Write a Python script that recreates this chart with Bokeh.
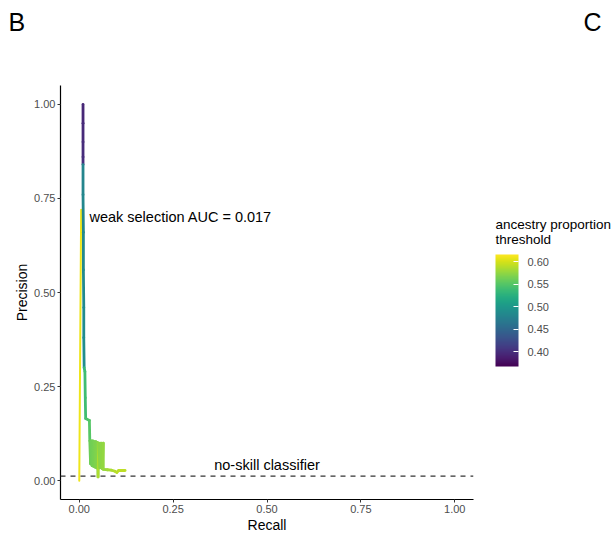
from bokeh.plotting import figure
from bokeh.models import (ColumnDataSource, LinearColorMapper, ColorBar, Span, Label,
                          NumeralTickFormatter, FixedTicker)
from bokeh.palettes import Viridis256
from bokeh.embed import file_html
from bokeh.resources import INLINE

# precision-recall path (ordered), coloured by ancestry proportion threshold
main_recall = [0.010, 0.010, 0.010, 0.010, 0.010, 0.010, 0.011, 0.011, 0.012, 0.012,
               0.013, 0.015, 0.016, 0.017, 0.027, 0.028,
               0.030, 0.032, 0.034, 0.036, 0.038, 0.040, 0.042, 0.044, 0.046, 0.048,
               0.050, 0.052, 0.055, 0.058, 0.061, 0.064, 0.064,
               0.075, 0.085, 0.095, 0.100, 0.105, 0.122]
main_precision = [1.000, 0.950, 0.900, 0.860, 0.840, 0.760, 0.660, 0.560, 0.460, 0.380,
                  0.300, 0.290, 0.220, 0.165, 0.160, 0.106,
                  0.045, 0.106, 0.040, 0.106, 0.038, 0.104, 0.036, 0.104, 0.034, 0.102,
                  0.010, 0.100, 0.034, 0.100, 0.032, 0.100, 0.030,
                  0.029, 0.028, 0.025, 0.022, 0.027, 0.027]
main_threshold = [0.395, 0.397, 0.399, 0.400, 0.480, 0.482, 0.484, 0.486, 0.488, 0.490,
                  0.535, 0.540, 0.540, 0.545, 0.550, 0.560,
                  0.561, 0.562, 0.563, 0.564, 0.565, 0.566, 0.567, 0.568, 0.569, 0.570,
                  0.585, 0.572, 0.573, 0.574, 0.575, 0.576, 0.578,
                  0.582, 0.585, 0.588, 0.590, 0.591, 0.593]

# highest-threshold branch
high_recall = [0.000, 0.005]
high_precision = [0.000, 0.720]
high_threshold = [0.610, 0.610]

no_skill = 0.012
auc_text = "weak selection AUC = 0.017"
cbar_title = "ancestry proportion\nthreshold"
cbar_ticks = [0.40, 0.45, 0.50, 0.55, 0.60]
axis_ticks = [0.0, 0.25, 0.5, 0.75, 1.0]
panel_tags = ["B", "C"]


def segments(xs, ys, ts):
    return dict(x0=xs[:-1], y0=ys[:-1], x1=xs[1:], y1=ys[1:], t=ts[:-1])


mapper = LinearColorMapper(palette=Viridis256, low=0.367, high=0.616)

p = figure(width=613, height=535, output_backend="svg", toolbar_location=None,
           x_range=(-0.05, 1.05), y_range=(-0.05, 1.05),
           min_border_left=60, min_border_top=85, min_border_right=140,
           min_border_bottom=35)

p.add_layout(Span(location=no_skill, dimension="width", line_color="#333333",
                  line_width=1.2, line_dash="5 5"))

src_main = ColumnDataSource(segments(main_recall, main_precision, main_threshold))
src_high = ColumnDataSource(segments(high_recall, high_precision, high_threshold))
p.segment("x0", "y0", "x1", "y1", source=src_high, line_width=2.0, line_cap="round",
          line_color={"field": "t", "transform": mapper})
p.segment("x0", "y0", "x1", "y1", source=src_main, line_width=2.8, line_cap="round",
          line_color={"field": "t", "transform": mapper})

p.add_layout(Label(x=0.027, y=0.70, text=auc_text, text_font="Liberation Sans",
                   text_font_size="14.5px", text_baseline="middle", text_color="black"))
p.add_layout(Label(x=0.5, y=0.042, text="no-skill classifier", text_font="Liberation Sans",
                   text_font_size="14.5px", text_baseline="middle", text_align="center",
                   text_color="black"))

for ax in (p.xaxis[0], p.yaxis[0]):
    ax.ticker = FixedTicker(ticks=axis_ticks)
    ax.formatter = NumeralTickFormatter(format="0.00")
    ax.axis_line_color = "black"
    ax.axis_line_width = 1.2
    ax.major_tick_in = 0
    ax.major_tick_out = 3
    ax.major_tick_line_color = "#333333"
    ax.minor_tick_line_color = None
    ax.major_label_text_font = "Liberation Sans"
    ax.major_label_text_font_size = "11px"
    ax.major_label_text_color = "#4d4d4d"
    ax.major_label_standoff = 2
    ax.axis_label_text_font = "Liberation Sans"
    ax.axis_label_text_font_size = "14px"
    ax.axis_label_text_font_style = "normal"
    ax.axis_label_text_color = "black"
    ax.axis_label_standoff = 1
p.xaxis.axis_label = "Recall"
p.yaxis.axis_label = "Precision"
p.xgrid.visible = False
p.ygrid.visible = False
p.outline_line_color = None

cbar = ColorBar(color_mapper=mapper, ticker=FixedTicker(ticks=cbar_ticks),
                formatter=NumeralTickFormatter(format="0.00"),
                width=23, height=112, padding=0, margin=0, location=(435, 133),
                major_label_text_font="Liberation Sans", major_label_text_font_size="11px",
                major_label_text_color="#4d4d4d", label_standoff=9,
                major_tick_line_color="white", major_tick_in=5, major_tick_out=0,
                bar_line_color=None, background_fill_alpha=0, border_line_color=None)
p.add_layout(cbar, "center")


def text_holder(text, loc, size):
    # an empty horizontal colour bar whose title carries text outside the frame
    return ColorBar(color_mapper=mapper, ticker=FixedTicker(ticks=[]), width=1, height=1,
                    orientation="horizontal", padding=0, margin=0, location=loc,
                    scale_alpha=0, title=text, title_text_font="Liberation Sans",
                    title_text_font_size=size, title_text_font_style="normal",
                    title_text_color="black", title_standoff=0, title_text_line_height=1.0,
                    bar_line_color=None, background_fill_alpha=0, border_line_color=None,
                    major_tick_line_color=None, minor_tick_line_color=None,
                    major_label_text_alpha=0)


p.add_layout(text_holder(cbar_title, (435, 252), "13.5px"), "center")
for tag, loc in zip(panel_tags, [(-52, 463), (523, 463)]):
    p.add_layout(text_holder(tag, loc, "25px"), "center")

open("out.html", "w").write(file_html(p, INLINE))
